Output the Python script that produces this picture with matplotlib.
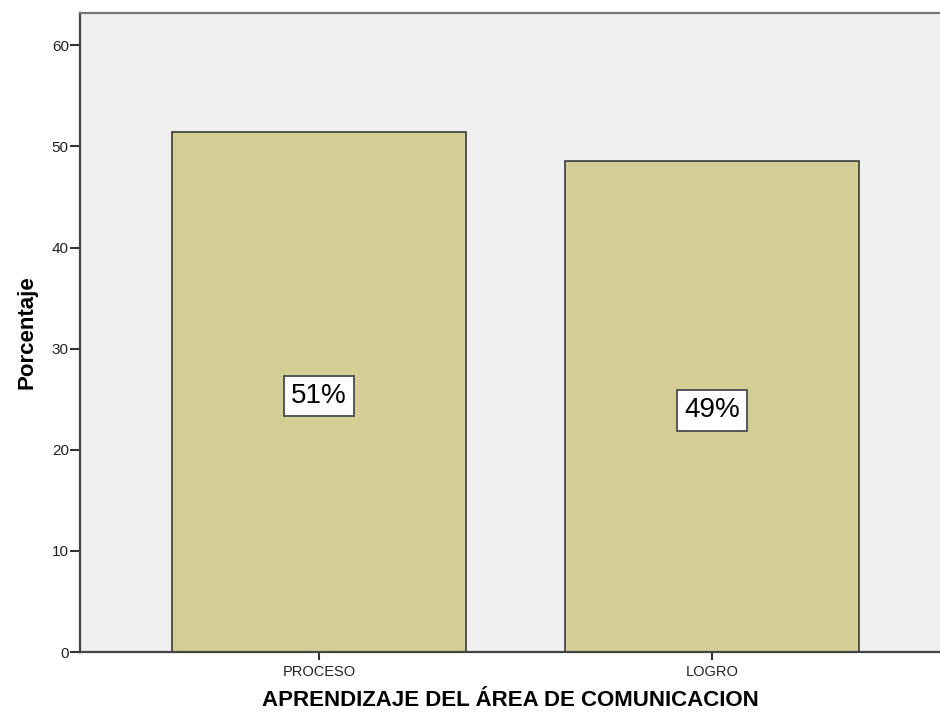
import matplotlib
matplotlib.use("Agg")
import matplotlib.pyplot as plt

categories = ["PROCESO", "LOGRO"]
values = [51.4, 48.6]
labels = ["51%", "49%"]
yticks = [0, 10, 20, 30, 40, 50, 60]

plt.rcParams['font.family'] = ['Liberation Sans', 'DejaVu Sans']

fig = plt.figure(figsize=(9.4, 7.2), dpi=100)
ax = fig.add_axes([0.085, 0.0944, 0.915, 0.8875])
ax.set_facecolor('#EFEFEF')

x = list(range(len(categories)))
ax.bar(x, values, width=0.748, color='#D2CE96', edgecolor='#3A3A3A', linewidth=1.2, zorder=2)
for xi, v, lab in zip(x, values, labels):
    ax.text(xi, v / 2 - 0.4, lab, ha='center', va='center', fontsize=20, color='black', zorder=3,
            bbox=dict(boxstyle='square,pad=0.26', facecolor='white', edgecolor='#555555', linewidth=1.4))

ax.set_xlim(-0.608, 1.58)
ax.set_ylim(0, 63.2)
ax.set_xticks(x)
ax.set_xticklabels(categories, fontsize=10.5)
ax.set_yticks(yticks)
ax.set_yticklabels([str(t) for t in yticks], fontsize=11)
ax.tick_params(axis='both', direction='out', width=1.5, color='#333333', labelcolor='#222222')
ax.tick_params(axis='x', length=6, pad=3)
ax.tick_params(axis='y', length=7, pad=1)

for s in ['left', 'bottom', 'top']:
    ax.spines[s].set_color('#444444')
    ax.spines[s].set_linewidth(1.6)
ax.spines['top'].set_color('#777777')
ax.spines['right'].set_visible(False)

ax.set_ylabel('Porcentaje', fontsize=16, fontweight='bold', labelpad=10)
ax.set_xlabel('APRENDIZAJE DEL ÁREA DE COMUNICACION', fontsize=16, fontweight='bold', labelpad=8)

fig.savefig('out.png', dpi=100)
